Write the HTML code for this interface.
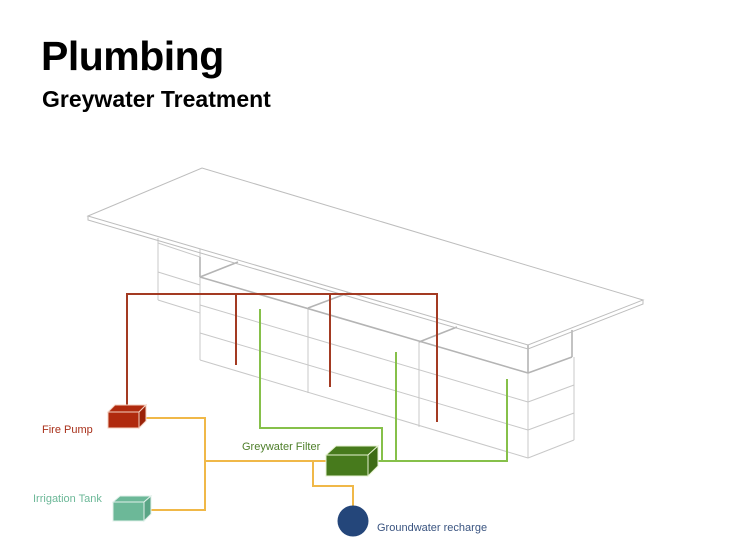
<!DOCTYPE html>
<html><head><meta charset="utf-8"><style>
html,body{margin:0;padding:0;background:#fff;}
body{width:730px;height:548px;position:relative;overflow:hidden;font-family:"Liberation Sans",sans-serif;}
.t1{position:absolute;left:41px;top:33px;font-size:41px;font-weight:bold;color:#000;letter-spacing:-0.5px;}
.t2{position:absolute;left:42px;top:86px;font-size:23px;font-weight:bold;color:#000;}
svg{position:absolute;left:0;top:0;}
</style></head><body>
<div class="t1">Plumbing</div>
<div class="t2">Greywater Treatment</div>
<svg width="730" height="548" viewBox="0 0 730 548">
<g fill="none" stroke="#c8c8c8" stroke-width="1">
 <!-- left block -->
 <line x1="158" y1="238" x2="158" y2="300"/>
 <line x1="158" y1="243" x2="200" y2="257"/>
 <line x1="158" y1="272" x2="200" y2="285"/>
 <line x1="158" y1="300" x2="200" y2="313"/>
 <!-- main wall -->
 <line x1="200" y1="248" x2="200" y2="360"/>
 <line x1="200" y1="305" x2="528" y2="402"/>
 <line x1="200" y1="333" x2="528" y2="430"/>
 <line x1="200" y1="360" x2="528" y2="458"/>
 <line x1="308" y1="308" x2="308" y2="393"/>
 <line x1="419" y1="342" x2="419" y2="427"/>
 <line x1="528" y1="373" x2="528" y2="458"/>
 <!-- right block -->
 <line x1="528" y1="402" x2="574" y2="385"/>
 <line x1="528" y1="430" x2="574" y2="413"/>
 <line x1="528" y1="458" x2="574" y2="440"/>
 <line x1="574" y1="357" x2="574" y2="440"/>
</g>
<g fill="none" stroke="#b4b4b4" stroke-width="1.6">
 <line x1="200" y1="257" x2="200" y2="277"/>
 <line x1="200" y1="277" x2="528" y2="373"/>
 <line x1="200" y1="277" x2="238" y2="262"/>
 <line x1="308" y1="308" x2="348" y2="293"/>
 <line x1="419" y1="342" x2="457" y2="327"/>
 <line x1="528" y1="345" x2="528" y2="373"/>
 <line x1="528" y1="373" x2="572" y2="357"/>
 <line x1="572" y1="330" x2="572" y2="357"/>
</g>
<!-- slab -->
<polygon points="88,216 202,168 643,300 528,345" fill="#fff" stroke="#bdbdbd" stroke-width="1"/>
<polyline points="88,216 88,220 528,349 643,304 643,300" fill="none" stroke="#bdbdbd" stroke-width="1"/>
<!-- red pipes -->
<g fill="none" stroke="#a33a22" stroke-width="2">
 <polyline points="127,407 127,294 437,294 437,422"/>
 <line x1="236" y1="294" x2="236" y2="365"/>
 <line x1="330" y1="294" x2="330" y2="387"/>
</g>
<!-- green pipes -->
<g fill="none" stroke="#86c04a" stroke-width="2">
 <polyline points="368,461 507,461 507,379"/>
 <polyline points="382,461 382,428 260,428 260,309"/>
 <line x1="396" y1="461" x2="396" y2="352"/>
</g>
<!-- yellow pipes -->
<g fill="none" stroke="#f0b848" stroke-width="2">
 <polyline points="138,418 205,418 205,510 144,510"/>
 <line x1="205" y1="461" x2="327" y2="461"/>
 <polyline points="313,461 313,486 353,486 353,507"/>
</g>
<!-- fire pump -->
<g stroke="#f3d0c0" stroke-width="1">
 <polygon points="108,412 115,405 146,405 139,412" fill="#b02a0e"/>
 <polygon points="139,412 146,405 146,421 139,428" fill="#9a2208"/>
 <rect x="108" y="412" width="31" height="16" fill="#b02a0e"/>
</g>
<!-- irrigation tank -->
<g stroke="#e0f0ea" stroke-width="1">
 <polygon points="113,502 120,496 151,496 144,502" fill="#6cb898"/>
 <polygon points="144,502 151,496 151,514 144,521" fill="#5aa586"/>
 <rect x="113" y="502" width="31" height="19" fill="#6cb898"/>
</g>
<!-- filter -->
<g stroke="#e6f2d0" stroke-width="1">
 <polygon points="326,455 336,446 378,446 368,455" fill="#477a1c"/>
 <polygon points="368,455 378,446 378,466 368,476" fill="#3e6c16"/>
 <rect x="326" y="455" width="42" height="21" fill="#477a1c"/>
</g>
<circle cx="353" cy="521" r="15.5" fill="#24467a"/>
<g font-family="Liberation Sans, sans-serif" font-size="11">
 <text x="42" y="433" fill="#a8301a">Fire Pump</text>
 <text x="33" y="502" fill="#6cb898">Irrigation Tank</text>
 <text x="242" y="450" fill="#4e7f2a">Greywater Filter</text>
 <text x="377" y="531" fill="#3a5480">Groundwater recharge</text>
</g>
</svg>
</body></html>
